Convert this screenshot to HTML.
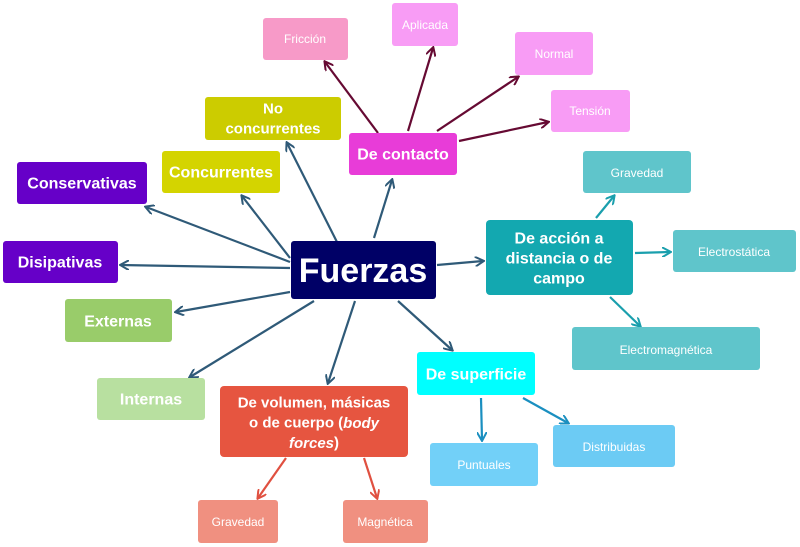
<!DOCTYPE html>
<html><head><meta charset="utf-8"><style>
html,body{margin:0;padding:0;background:#fff;}
svg{display:block;}
text{font-family:"Liberation Sans",sans-serif;fill:#fff;text-anchor:middle;dominant-baseline:central;}
</style></head><body>
<svg width="800" height="547" viewBox="0 0 800 547" xmlns="http://www.w3.org/2000/svg">
<defs>
<marker id="a1" markerWidth="10" markerHeight="10" refX="8" refY="5" orient="auto" markerUnits="userSpaceOnUse"><path d="M0,0 L9,5 L0,10" fill="none" stroke="#2f5a78" stroke-width="2"/></marker>
<marker id="a2" markerWidth="10" markerHeight="10" refX="8" refY="5" orient="auto" markerUnits="userSpaceOnUse"><path d="M0,0 L9,5 L0,10" fill="none" stroke="#660a33" stroke-width="2"/></marker>
<marker id="a3" markerWidth="10" markerHeight="10" refX="8" refY="5" orient="auto" markerUnits="userSpaceOnUse"><path d="M0,0 L9,5 L0,10" fill="none" stroke="#1a9fad" stroke-width="2"/></marker>
<marker id="a4" markerWidth="10" markerHeight="10" refX="8" refY="5" orient="auto" markerUnits="userSpaceOnUse"><path d="M0,0 L9,5 L0,10" fill="none" stroke="#1a8fc0" stroke-width="2"/></marker>
<marker id="a5" markerWidth="10" markerHeight="10" refX="8" refY="5" orient="auto" markerUnits="userSpaceOnUse"><path d="M0,0 L9,5 L0,10" fill="none" stroke="#e05040" stroke-width="2"/></marker>
</defs>
<g stroke="#2f5a78" stroke-width="2.2" marker-end="url(#a1)">
<line x1="290" y1="262" x2="146" y2="207"/>
<line x1="290" y1="258" x2="242" y2="196"/>
<line x1="340" y1="248" x2="287" y2="143"/>
<line x1="290" y1="268" x2="121" y2="265"/>
<line x1="290" y1="292" x2="176" y2="312"/>
<line x1="314" y1="301" x2="190" y2="377"/>
<line x1="355" y1="301" x2="328" y2="383"/>
<line x1="398" y1="301" x2="452" y2="350"/>
<line x1="374" y1="238" x2="392" y2="180"/>
<line x1="437" y1="265" x2="483" y2="261"/>
</g>
<g stroke="#660a33" stroke-width="2.2" marker-end="url(#a2)">
<line x1="378" y1="133" x2="325" y2="62"/>
<line x1="408" y1="131" x2="433" y2="48"/>
<line x1="437" y1="131" x2="518" y2="77"/>
<line x1="459" y1="141" x2="548" y2="122"/>
</g>
<g stroke="#1a9fad" stroke-width="2.2" marker-end="url(#a3)">
<line x1="596" y1="218" x2="614" y2="196"/>
<line x1="635" y1="253" x2="670" y2="252"/>
<line x1="610" y1="297" x2="640" y2="326"/>
</g>
<g stroke="#1a8fc0" stroke-width="2.2" marker-end="url(#a4)">
<line x1="481" y1="398" x2="482" y2="440"/>
<line x1="523" y1="398" x2="568" y2="423"/>
</g>
<g stroke="#e05040" stroke-width="2.2" marker-end="url(#a5)">
<line x1="286" y1="458" x2="258" y2="498"/>
<line x1="364" y1="458" x2="377" y2="498"/>
</g>

<g>
<rect x="263" y="18" width="85" height="42" rx="3" fill="#f79ac8"/><text x="305" y="39" font-size="12">Fricción</text>
<rect x="392" y="3" width="66" height="43" rx="3" fill="#f89cf5"/><text x="425" y="25" font-size="12">Aplicada</text>
<rect x="515" y="32" width="78" height="43" rx="3" fill="#f89cf5"/><text x="554" y="54" font-size="12">Normal</text>
<rect x="551" y="90" width="79" height="42" rx="3" fill="#f89cf5"/><text x="590" y="111" font-size="12">Tensión</text>
<rect x="205" y="97" width="136" height="43" rx="3" fill="#cccc00"/><text x="273" y="109" font-size="15" font-weight="bold">No</text><text x="273" y="129" font-size="15" font-weight="bold">concurrentes</text>
<rect x="349" y="133" width="108" height="42" rx="3" fill="#e83cd8"/><text x="403" y="155" font-size="16" font-weight="bold">De contacto</text>
<rect x="162" y="151" width="118" height="42" rx="3" fill="#d4d400"/><text x="221" y="173" font-size="16" font-weight="bold">Concurrentes</text>
<rect x="17" y="162" width="130" height="42" rx="3" fill="#6600c8"/><text x="82" y="184" font-size="16" font-weight="bold">Conservativas</text>
<rect x="3" y="241" width="115" height="42" rx="3" fill="#6600c8"/><text x="60" y="263" font-size="16" font-weight="bold">Disipativas</text>
<rect x="291" y="241" width="145" height="58" rx="3" fill="#000066"/><text x="363" y="271" font-size="34" font-weight="bold">Fuerzas</text>
<rect x="486" y="220" width="147" height="75" rx="4" fill="#13a8b0"/><text x="559" y="239" font-size="16" font-weight="bold">De acción a</text><text x="559" y="259" font-size="16" font-weight="bold">distancia o de</text><text x="559" y="279" font-size="16" font-weight="bold">campo</text>
<rect x="583" y="151" width="108" height="42" rx="3" fill="#5fc5cb"/><text x="637" y="173" font-size="12">Gravedad</text>
<rect x="673" y="230" width="123" height="42" rx="3" fill="#5fc5cb"/><text x="734" y="252" font-size="12">Electrostática</text>
<rect x="65" y="299" width="107" height="43" rx="3" fill="#99cc6a"/><text x="118" y="322" font-size="16" font-weight="bold">Externas</text>
<rect x="572" y="327" width="188" height="43" rx="3" fill="#5fc5cb"/><text x="666" y="350" font-size="12">Electromagnética</text>
<rect x="417" y="352" width="118" height="43" rx="3" fill="#00ffff"/><text x="476" y="375" font-size="16" font-weight="bold">De superficie</text>
<rect x="97" y="378" width="108" height="42" rx="3" fill="#b8e0a0"/><text x="151" y="400" font-size="16" font-weight="bold">Internas</text>
<rect x="220" y="386" width="188" height="71" rx="4" fill="#e65540"/><text x="314" y="403" font-size="15" font-weight="bold">De volumen, másicas</text><text x="314" y="423" font-size="15" font-weight="bold">o de cuerpo (<tspan font-style="italic">body</tspan></text><text x="314" y="443" font-size="15" font-weight="bold"><tspan font-style="italic">forces</tspan>)</text>
<rect x="430" y="443" width="108" height="43" rx="3" fill="#72d0f8"/><text x="484" y="465" font-size="12">Puntuales</text>
<rect x="553" y="425" width="122" height="42" rx="3" fill="#6ccbf4"/><text x="614" y="447" font-size="12">Distribuidas</text>
<rect x="198" y="500" width="80" height="43" rx="3" fill="#f09080"/><text x="238" y="522" font-size="12">Gravedad</text>
<rect x="343" y="500" width="85" height="43" rx="3" fill="#f09080"/><text x="385" y="522" font-size="12">Magnética</text>
</g>
</svg>
</body></html>
